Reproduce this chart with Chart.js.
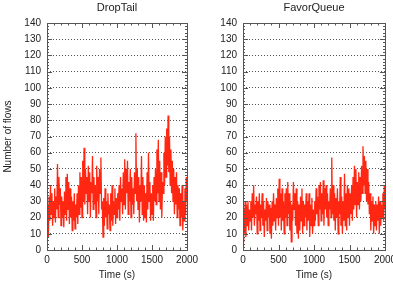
<!DOCTYPE html>
<html>
<head>
<meta charset="utf-8">
<script src="https://cdn.jsdelivr.net/npm/chart.js@4/dist/chart.umd.min.js"></script>
<style>
  html, body { margin: 0; padding: 0; background: #fff; overflow: hidden; width: 393px; height: 281px; }
  canvas { position: absolute; top: 0; }
</style>
</head>
<body>
<canvas id="dropTail" width="210" height="281" style="left:0px"></canvas>
<canvas id="favorQueue" width="210" height="281" style="left:196px"></canvas>
<script>
const dropTailFlows = [
  10, 28, 8, 33, 18, 40, 22, 35, 15, 30,
  20, 38, 17, 33, 25, 53, 20, 45, 28, 38,
  15, 33, 20, 30, 14, 36, 22, 45, 18, 47,
  25, 42, 16, 38, 20, 33, 12, 30, 18, 35,
  13, 28, 20, 35, 16, 40, 22, 48, 26, 45,
  20, 55, 30, 63, 28, 50, 35, 45, 22, 52,
  30, 48, 20, 42, 35, 58, 25, 45, 28, 40,
  20, 52, 30, 45, 22, 50, 35, 57, 25, 30,
  8, 32, 15, 38, 20, 30, 13, 35, 22, 28,
  12, 35, 18, 40, 15, 30, 22, 38, 16, 32,
  20, 35, 25, 40, 18, 45, 30, 38, 22, 48,
  28, 56, 25, 50, 35, 55, 22, 42, 30, 50,
  20, 45, 28, 38, 22, 48, 35, 72, 30, 50,
  25, 45, 17, 40, 30, 58, 22, 45, 18, 40,
  20, 35, 17, 48, 25, 60, 30, 42, 18, 35,
  22, 40, 18, 45, 30, 50, 28, 62, 35, 68,
  30, 55, 25, 48, 20, 42, 35, 60, 40, 70,
  45, 75, 52, 83, 48, 70, 40, 62, 35, 55,
  30, 50, 22, 45, 28, 48, 20, 40, 25, 38,
  15, 35, 20, 40, 12, 30, 18, 38, 22, 45,
  30
];
const favorQueueFlows = [
  5, 25, 10, 30, 8, 28, 15, 30, 12, 25,
  18, 30, 12, 35, 20, 40, 15, 28, 22, 33,
  10, 30, 18, 35, 12, 28, 20, 35, 15, 30,
  8, 25, 18, 32, 12, 30, 20, 28, 10, 26,
  7, 30, 15, 35, 18, 28, 12, 32, 20, 38,
  15, 44, 20, 35, 12, 38, 18, 30, 10, 35,
  20, 38, 15, 42, 22, 35, 12, 30, 5, 28,
  18, 42, 25, 35, 15, 38, 10, 30, 7, 28,
  12, 33, 18, 38, 10, 30, 15, 28, 20, 35,
  12, 30, 18, 35, 8, 28, 15, 32, 10, 25,
  15, 30, 18, 38, 22, 33, 15, 40, 25, 42,
  18, 35, 22, 43, 15, 38, 25, 40, 20, 35,
  15, 30, 25, 38, 20, 57, 22, 40, 18, 35,
  12, 32, 20, 38, 10, 30, 22, 45, 15, 33,
  10, 30, 18, 47, 15, 35, 12, 40, 20, 38,
  15, 35, 22, 40, 18, 45, 25, 52, 28, 50,
  20, 42, 28, 48, 25, 45, 30, 52, 35, 64,
  40, 58, 35, 55, 30, 50, 28, 42, 22, 35,
  12, 30, 18, 33, 10, 28, 15, 30, 12, 28,
  18, 33, 10, 30, 15, 28, 20, 35, 18, 40,
  25
];
const sampleStep = 10; // seconds between samples
const timeTicks = [0, 500, 1000, 1500, 2000];
const flowTicks = [0, 10, 20, 30, 40, 50, 60, 70, 80, 90, 100, 110, 120, 130, 140];

const FONT = '"Liberation Sans", Arial, sans-serif';
const LINE_RED = 'rgb(255, 38, 18)';

// gnuplot-like frame: box, inward ticks, title on top
const framePlugin = {
  id: 'frame',
  afterDraw(chart, args, opts) {
    const ctx = chart.ctx;
    const a = chart.chartArea;
    const xs = chart.scales.x, ys = chart.scales.y;
    ctx.save();
    ctx.strokeStyle = '#555';
    ctx.lineWidth = 1;
    ctx.strokeRect(Math.round(a.left) + 0.5, Math.round(a.top) + 0.5,
                   Math.round(a.right - a.left), Math.round(a.bottom - a.top));
    ctx.beginPath();
    for (let t = 0; t <= 2000; t += 100) {
      const px = Math.round(xs.getPixelForValue(t)) + 0.5;
      const len = t % 500 === 0 ? 5 : 2.5;
      ctx.moveTo(px, a.bottom); ctx.lineTo(px, a.bottom - len);
      ctx.moveTo(px, a.top); ctx.lineTo(px, a.top + len);
    }
    for (let v = 0; v <= 140; v += 2) {
      const py = Math.round(ys.getPixelForValue(v)) + 0.5;
      const len = v % 10 === 0 ? 5 : 2;
      ctx.moveTo(a.left, py); ctx.lineTo(a.left + len, py);
      ctx.moveTo(a.right, py); ctx.lineTo(a.right - len, py);
    }
    ctx.stroke();
    ctx.fillStyle = '#222';
    ctx.font = '11px ' + FONT;
    ctx.textAlign = 'center';
    ctx.textBaseline = 'middle';
    ctx.fillText(opts.text, (a.left + a.right) / 2, 8);
    ctx.restore();
  }
};

function makePanel(id, title, values, showYTitle, rightPad) {
  const points = values.map((v, i) => ({ x: i * sampleStep, y: v }));
  return new Chart(document.getElementById(id), {
    type: 'line',
    data: {
      datasets: [{
        data: points,
        borderColor: LINE_RED,
        borderWidth: 1.3,
        pointRadius: 0,
        tension: 0
      }]
    },
    options: {
      responsive: false,
      animation: false,
      devicePixelRatio: 1,
      layout: { padding: { left: 0, top: 23, right: rightPad, bottom: 0 } },
      plugins: {
        legend: { display: false },
        tooltip: { enabled: false },
        frame: { text: title }
      },
      scales: {
        x: {
          type: 'linear',
          min: 0, max: 2000,
          afterBuildTicks: s => { s.ticks = timeTicks.map(v => ({ value: v })); },
          afterFit: s => { s.height = 31; s.paddingLeft = 0; s.paddingRight = 0; },
          grid: { display: false, drawTicks: false },
          border: { display: false },
          ticks: { color: '#222', font: { family: FONT, size: 10 }, padding: 4, maxRotation: 0,
                   callback: v => String(v) },
          title: { display: true, text: 'Time (s)', color: '#222',
                   font: { family: FONT, size: 10 }, padding: { top: 0, bottom: 0 } }
        },
        y: {
          min: 0, max: 140,
          afterBuildTicks: s => { s.ticks = flowTicks.map(v => ({ value: v })); },
          afterFit: s => { s.width = 47; s.paddingTop = 0; s.paddingBottom = 0; },
          grid: {
            drawTicks: false,
            color: ctx => (ctx.tick.value === 0 || ctx.tick.value === 140) ? 'rgba(0,0,0,0)' : '#555',
            lineWidth: 1
          },
          border: { display: false, dash: [1, 2] },
          ticks: { color: '#222', font: { family: FONT, size: 10 }, padding: 6,
                   callback: v => String(v) },
          title: { display: showYTitle, text: 'Number of flows', color: '#222',
                   font: { family: FONT, size: 10 }, padding: { top: 2, bottom: 0 } }
        }
      }
    },
    plugins: [framePlugin]
  });
}

makePanel('dropTail', 'DropTail', dropTailFlows, true, 23);
makePanel('favorQueue', 'FavorQueue', favorQueueFlows, false, 21);
</script>
</body>
</html>
